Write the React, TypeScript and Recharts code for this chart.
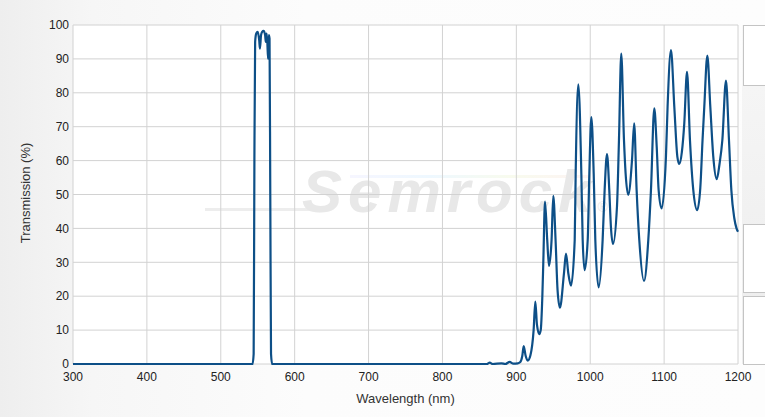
import React from 'react';
import { LineChart, Line, XAxis, YAxis, CartesianGrid } from 'recharts';

const wavelengths: number[] = [
  300, 540, 543, 544.5, 545.5, 546.5, 548, 550, 552, 553, 554.5, 556, 558, 560, 561, 562, 563, 564, 565, 566, 567, 568, 569.5,
  860, 864, 868, 880, 885, 891, 896, 902, 905, 908, 910, 912.5, 915.4, 919, 923.4, 925.7, 927.9, 931.1, 933, 935.2, 936.5,
  938.8, 941.8, 944.2, 947.7, 950, 953.1, 955.8, 959, 964.5, 967.2, 970.3, 974, 979, 980.3, 983.9, 988, 989.8, 992.4,
  996.6, 998.8, 1001.5, 1004.7, 1006.9, 1011.4, 1016.8, 1019.5, 1022.7, 1025.8, 1028, 1030.8, 1036.2, 1038.9, 1042,
  1045.7, 1047.9, 1051.5, 1056.5, 1059.5, 1062.8, 1066.4, 1072.8, 1078.6, 1082.2, 1086.7, 1090, 1092.6, 1096.7, 1102.5,
  1104.7, 1109.3, 1113.8, 1117.9, 1120.5, 1124, 1127.3, 1131, 1135, 1139.5, 1144.8, 1149, 1152, 1154.4, 1158.5, 1162.5,
  1166.6, 1171.2, 1175, 1178.8, 1183.7, 1187.8, 1191, 1195, 1198, 1200,
];

const transmission: number[] = [
  0, 0, 0, 3, 60, 95, 97.5, 98, 95.5, 93, 97, 98, 98.3, 97, 95, 97.5, 95, 90, 97, 96, 50, 3, 0,
  0, 0.4, 0, 0.2, 0, 0.6, 0.1, 0.2, 0.5, 2.3, 5.3, 2.5, 1, 2.5, 10, 18.4, 11.6, 8.8, 10, 20, 30,
  47.9, 36.6, 28.9, 36.6, 49.6, 36.6, 21.8, 16.6, 26.8, 32.6, 26.8, 23.1, 36.6, 56, 82.5, 56, 36.6, 27.7,
  36.6, 56.2, 72.8, 56.2, 36.6, 22.6, 36.6, 51.3, 61.9, 51.3, 40.5, 35.4, 46.4, 66, 91.6,
  66, 56.2, 49.9, 60, 71, 51.3, 36.6, 24.5, 36.6, 51.3, 75.4, 64, 51.3, 45.9, 61.2,
  75.9, 92.6, 75.9, 61.2, 59, 62.5, 71, 86.2, 66, 51.3, 45.4, 52, 66, 76, 91, 76,
  61, 54.5, 59, 66, 83.6, 66, 51.3, 43, 40, 39,
];

const xTicks: number[] = [300, 400, 500, 600, 700, 800, 900, 1000, 1100, 1200];
const yTicks: number[] = [0, 10, 20, 30, 40, 50, 60, 70, 80, 90, 100];

const data = wavelengths.map((w, i) => ({ wl: w, t: transmission[i] }));

const FONT = '"Liberation Sans", Arial, sans-serif';

export default function App() {
  return (
    <div
      style={{
        position: 'absolute',
        left: 0,
        top: 0,
        width: 765,
        height: 417,
        overflow: 'hidden',
        background: 'linear-gradient(90deg, #eeeeee 0%, #f6f6f6 12%, #fcfcfc 40%, #fdfdfd 100%)',
        fontFamily: FONT,
      }}
    >
      {/* plot background */}
      <div style={{ position: 'absolute', left: 73, top: 25, width: 665, height: 339, background: '#ffffff' }} />
      {/* watermark */}
      <div
        style={{
          position: 'absolute',
          left: 205,
          top: 208,
          width: 110,
          height: 3,
          background: '#ededed',
        }}
      />
      <div
        style={{
          position: 'absolute',
          left: 350,
          top: 175,
          width: 240,
          height: 3,
          background: 'linear-gradient(90deg, #f6f6ff, #eef8ff, #f8fbee, #fdf3f3)',
        }}
      />
      <div
        style={{
          position: 'absolute',
          left: 302,
          top: 162,
          fontFamily: FONT,
          fontStyle: 'italic',
          fontWeight: 'bold',
          fontSize: 60,
          lineHeight: 1,
          letterSpacing: 6,
          color: '#e8e8e8',
          whiteSpace: 'nowrap',
        }}
      >
        Semrock<span style={{ fontSize: 14, fontStyle: 'normal', fontWeight: 'normal' }}>®</span>
      </div>
      {/* right side panel */}
      <div style={{ position: 'absolute', left: 742, top: 25, width: 30, height: 339, background: 'linear-gradient(180deg, #f7f7f7, #ececec)' }} />
      <div style={{ position: 'absolute', left: 743, top: 25, width: 30, height: 59, background: '#fff', border: '1px solid #c4c4c4' }} />
      <div style={{ position: 'absolute', left: 743, top: 224, width: 30, height: 67, background: '#fff', border: '1px solid #c4c4c4' }} />
      <div style={{ position: 'absolute', left: 743, top: 296, width: 30, height: 67, background: '#fff', border: '1px solid #c4c4c4' }} />

      <div style={{ position: 'absolute', left: 0, top: 0 }}>
        <LineChart width={765} height={417} data={data} margin={{ top: 25, right: 27, left: 0, bottom: 0 }}>
          <CartesianGrid stroke="#d2d2d2" strokeWidth={1} />
          <XAxis
            dataKey="wl"
            type="number"
            domain={[300, 1200]}
            ticks={xTicks}
            height={53}
            axisLine={false}
            tickLine={false}
            tickSize={0}
            tickMargin={8}
            interval={0}
            tick={{ fill: '#222', fontSize: 12, fontFamily: FONT }}
            label={{ value: 'Wavelength (nm)', position: 'center', dy: 7.5, fill: '#333', fontSize: 13, fontFamily: FONT }}
          />
          <YAxis
            type="number"
            domain={[0, 100]}
            ticks={yTicks}
            width={73}
            axisLine={false}
            tickLine={false}
            tickSize={0}
            tickMargin={4}
            interval={0}
            tick={{ fill: '#222', fontSize: 12, fontFamily: FONT }}
            label={{ value: 'Transmission (%)', angle: -90, position: 'center', dx: -11, dy: -1.5, fill: '#333', fontSize: 13, fontFamily: FONT }}
          />
          <Line
            type="monotone"
            dataKey="t"
            stroke="#0d4f87"
            strokeWidth={2.2}
            dot={false}
            activeDot={false}
            isAnimationActive={false}
          />
        </LineChart>
      </div>
    </div>
  );
}
